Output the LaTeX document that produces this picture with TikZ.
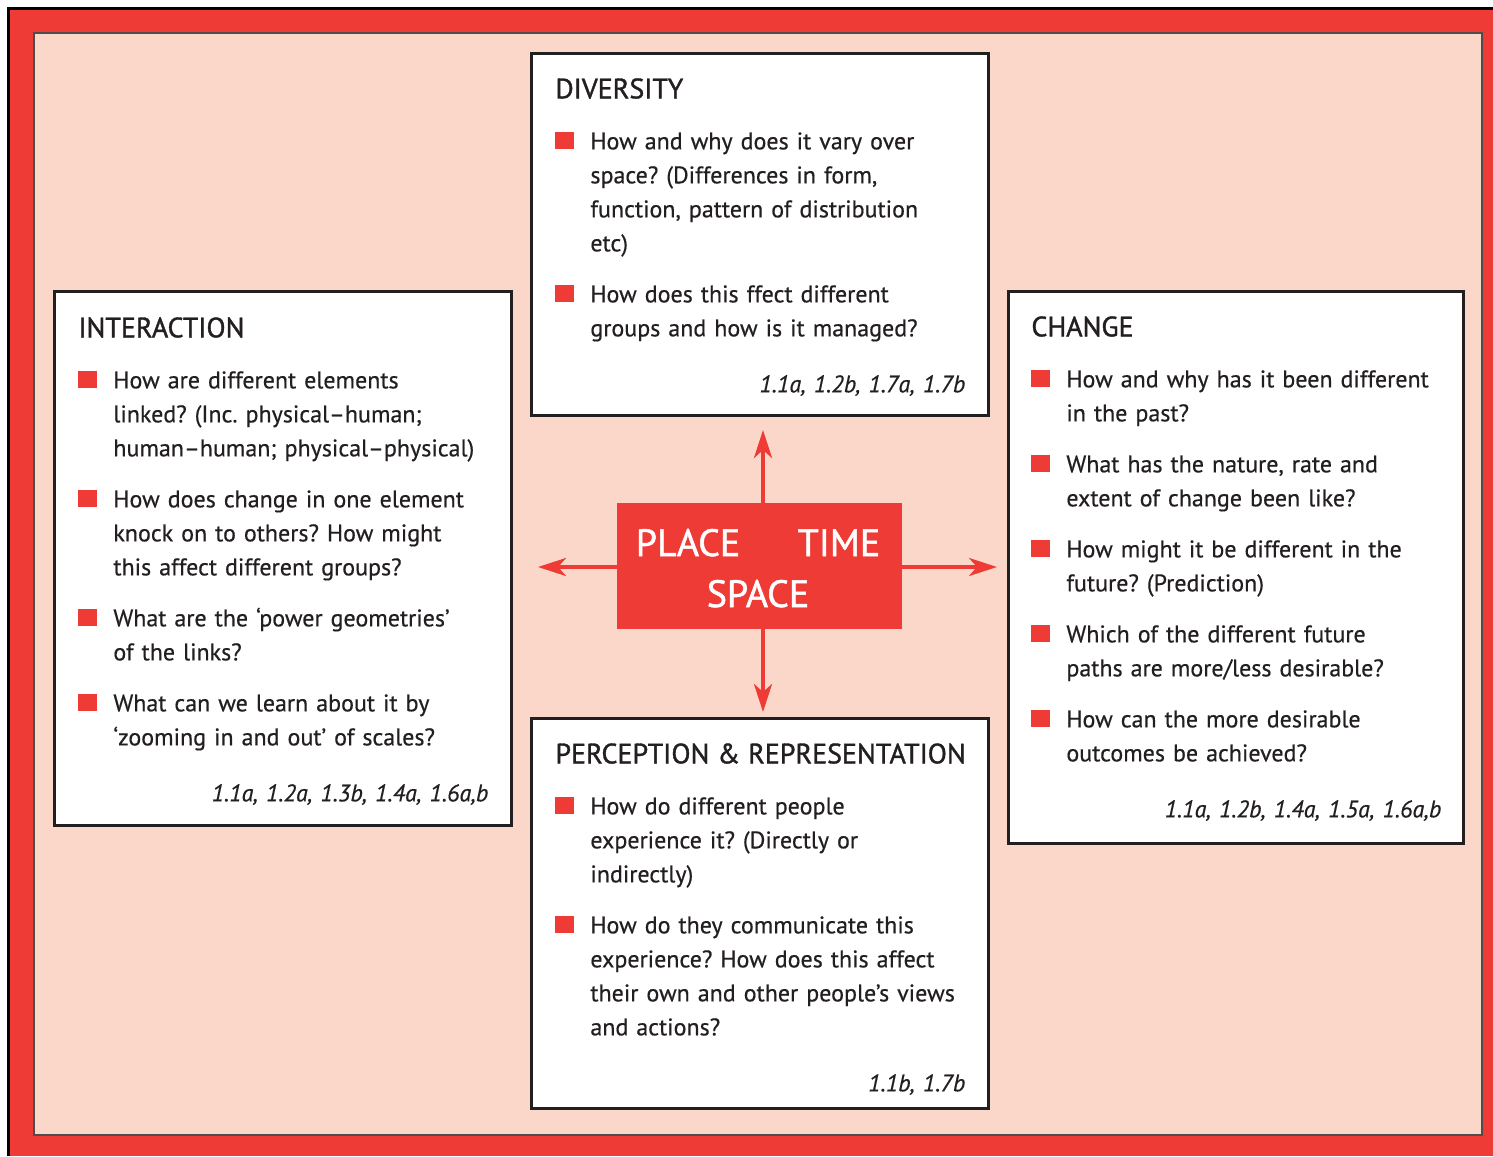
\documentclass[tikz,border=0pt]{standalone}
\usepackage{fontspec}
\setmainfont{PT Sans}[FakeBold=0.5]
\newfontfamily\headfont{PT Sans}[FakeBold=1.3]
\usetikzlibrary{arrows.meta,fit}

\definecolor{geored}{RGB}{239,59,54}
\definecolor{geopink}{RGB}{251,215,201}
\definecolor{geoink}{RGB}{35,31,32}

\newcommand{\qmark}{\textcolor{geored}{\rule{9.5pt}{8.5pt}}}
\newcommand{\qhead}[1]{\noindent\mbox{\headfont\fontsize{14}{17}\selectfont #1}\par}
\newcommand{\qitem}[1]{\par\noindent\hangindent=17.5pt\hangafter=1\makebox[17.5pt][l]{\qmark}{\let\\\newline#1}\par}
\newcommand{\qrefs}[1]{\vspace{2.5pt}{\raggedleft\itshape #1\par}}

\begin{document}
\begin{tikzpicture}[x=0.5pt, y=-0.5pt,
      panel/.style={draw=geoink, line width=1.5pt, fill=white, inner sep=0pt},
      paneltext/.style={anchor=north west, inner sep=0pt, text=geoink, align=left,
        font={\fontsize{12}{17}\selectfont\frenchspacing\setlength{\parskip}{8.5pt}}},
      core/.style={fill=geored, inner sep=0pt},
      corelabel/.style={anchor=base, inner sep=0pt, text=white, font=\headfont\fontsize{19}{22}\selectfont},
      arrow/.style={-{Stealth[length=14pt, width=9pt, inset=4pt]}, line width=2pt, draw=geored}
    ]
      \useasboundingbox (0,0) rectangle (1493,1156);
      % frame
      \fill[white] (0,0) rectangle (1493,1156);
      \fill[geored] (8.5,8.5) rectangle (1493,1156);
      \draw[black, line width=1.5pt] (8.5,1156) -- (8.5,8.5) -- (1493,8.5);
      \draw[fill=geopink, draw=geoink!80, line width=1pt] (34,33.5) rectangle (1482,1135);

      % centre
      \node[core, fit={(617,503) (902,629)}] (core) {};
      \node[corelabel] (place) at (688,556) {PLACE};
      \node[corelabel] (time) at (839,556) {TIME};
      \node[corelabel] (space) at (758,607) {SPACE};

      % panels
      \node[panel, fit={(531,54) (988,415)}] (div) {};
      \node[paneltext, text width=205pt] (divtext) at (555,78) {%
        \qhead{DIVERSITY}
        \qitem{How and why does it vary over\\space? (Differences in form,\\function, pattern of distribution\\etc)}
        \qitem{How does this ffect different\\groups and how is it managed?}
        \qrefs{1.1a, 1.2b, 1.7a, 1.7b}};

      \node[panel, fit={(54,291) (511,825)}] (inter) {};
      \node[paneltext, text width=205pt] (intertext) at (78,317) {%
        \qhead{INTERACTION}
        \qitem{How are different elements\\linked? (Inc. physical–human;\\human–human; physical–physical)}
        \qitem{How does change in one element\\knock on to others? How might\\this affect different groups?}
        \qitem{What are the ‘power geometries’\\of the links?}
        \qitem{What can we learn about it by\\‘zooming in and out’ of scales?}
        \qrefs{1.1a, 1.2a, 1.3b, 1.4a, 1.6a,b}};

      \node[panel, fit={(1008,291) (1463,843)}] (change) {};
      \node[paneltext, text width=205pt] (changetext) at (1031,316) {%
        \qhead{CHANGE}
        \qitem{How and why has it been different\\in the past?}
        \qitem{What has the nature, rate and\\extent of change been like?}
        \qitem{How might it be different in the\\future? (Prediction)}
        \qitem{Which of the different future\\paths are more/less desirable?}
        \qitem{How can the more desirable\\outcomes be achieved?}
        \qrefs{1.1a, 1.2b, 1.4a, 1.5a, 1.6a,b}};

      \node[panel, fit={(531,718) (988,1108)}] (perc) {};
      \node[paneltext, text width=205pt] (perctext) at (555,743) {%
        \qhead{PERCEPTION \& REPRESENTATION}
        \qitem{How do different people\\experience it? (Directly or\\indirectly)}
        \qitem{How do they communicate this\\experience? How does this affect\\their own and other people's views\\and actions?}
        \qrefs{1.1b, 1.7b}};

      % arrows
      \coordinate (uptip) at (763,430);
      \coordinate (downtip) at (763,712);
      \coordinate (lefttip) at (538,567);
      \coordinate (righttip) at (997,567);
      \draw[arrow] (core.north -| uptip) -- (uptip);
      \draw[arrow] (core.south -| downtip) -- (downtip);
      \draw[arrow] (core.west |- lefttip) -- (lefttip);
      \draw[arrow] (core.east |- righttip) -- (righttip);
    \end{tikzpicture}
\end{document}
